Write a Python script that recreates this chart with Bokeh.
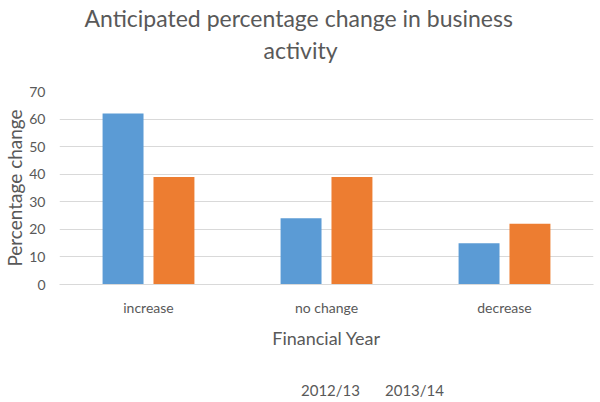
from bokeh.plotting import figure
from bokeh.layouts import column
from bokeh.models import FactorRange, FixedTicker, Legend, LegendItem, ColumnDataSource, Title
from bokeh.transform import dodge
from bokeh.embed import file_html
from bokeh.resources import INLINE

categories = ["increase", "no change", "decrease"]
series_names = ["2012/13", "2013/14"]
values_2012 = [62, 24, 15]
values_2013 = [39, 39, 22]
y_ticks = [0, 10, 20, 30, 40, 50, 60, 70]
title_lines = ["Anticipated percentage change in business", "activity"]

FONT = "Lato"
TXT = "#595959"
C1 = "#5B9BD5"
C2 = "#ED7D31"

src = ColumnDataSource(data=dict(cat=categories, a=values_2012, b=values_2013))

p = figure(x_range=FactorRange(factors=categories, range_padding=0), y_range=(0, 70),
           width=600, height=372, frame_width=534, frame_height=193,
           output_backend="svg", toolbar_location=None, title=None,
           min_border_left=58, min_border_right=8, min_border_top=90, min_border_bottom=89)
p.outline_line_color = None
p.background_fill_color = "white"

p.vbar(x=dodge("cat", -0.143, range=p.x_range), top="a", width=0.23, source=src,
       fill_color=C1, line_color=None)
p.vbar(x=dodge("cat", 0.143, range=p.x_range), top="b", width=0.23, source=src,
       fill_color=C2, line_color=None)

for ax in (p.xaxis, p.yaxis):
    ax.major_tick_line_color = None
    ax.minor_tick_line_color = None
    ax.major_tick_out = 0
    ax.major_tick_in = 0
    ax.minor_tick_out = 0
    ax.minor_tick_in = 0
    ax.major_label_text_font = FONT
    ax.major_label_text_font_size = "14px"
    ax.major_label_text_color = TXT
    ax.axis_label_text_font = FONT
    ax.axis_label_text_font_style = "normal"
    ax.axis_label_text_color = TXT

p.yaxis.ticker = FixedTicker(ticks=y_ticks)
p.yaxis.axis_line_color = None
p.yaxis.major_label_standoff = 14
p.yaxis.axis_label = "Percentage change"
p.yaxis.axis_label_text_font_size = "19px"
p.yaxis.axis_label_standoff = 0

p.xaxis.axis_line_color = "#D9D9D9"
p.xaxis.major_label_standoff = 14
p.xaxis.axis_label = "Financial Year"
p.xaxis.axis_label_text_font_size = "18px"
p.xaxis.axis_label_standoff = 8

p.xgrid.grid_line_color = None
p.ygrid.grid_line_color = "#D9D9D9"
p.ygrid.ticker = FixedTicker(ticks=y_ticks)

# stacked above the frame: spacer, second title line, first title line
p.add_layout(Title(text=" ", text_font_size="1px", standoff=25), "above")
p.add_layout(Title(text=title_lines[1], align="left", offset=204, text_font=FONT,
                   text_font_size="23px", text_font_style="normal", text_color=TXT,
                   standoff=0), "above")
p.add_layout(Title(text=title_lines[0], align="left", offset=25, text_font=FONT,
                   text_font_size="23px", text_font_style="normal", text_color=TXT,
                   standoff=3), "above")

# legend strip below the chart
leg = figure(width=600, height=30, x_range=(0, 1), y_range=(0, 1),
             x_axis_location=None, y_axis_location=None,
             output_backend="svg", toolbar_location=None, title=None,
             min_border_left=0, min_border_right=0, min_border_top=0, min_border_bottom=0)
leg.outline_line_color = None
leg.grid.visible = False
empty = ColumnDataSource(data=dict(x=[], top=[]))
g1 = leg.vbar(x="x", top="top", width=0.1, source=empty, fill_color=C1, line_color=None)
g2 = leg.vbar(x="x", top="top", width=0.1, source=empty, fill_color=C2, line_color=None)

legend = Legend(items=[LegendItem(label=series_names[0], renderers=[g1]),
                       LegendItem(label=series_names[1], renderers=[g2])],
                orientation="horizontal", location=(229, 4),
                glyph_width=8, glyph_height=8, label_height=15, label_standoff=5,
                spacing=12, padding=0, margin=0, border_line_color=None,
                background_fill_alpha=0, label_text_font=FONT,
                label_text_font_size="15px", label_text_color=TXT)
leg.add_layout(legend)

layout = column(p, leg, spacing=0)
open("out.html", "w").write(file_html(layout, INLINE))
